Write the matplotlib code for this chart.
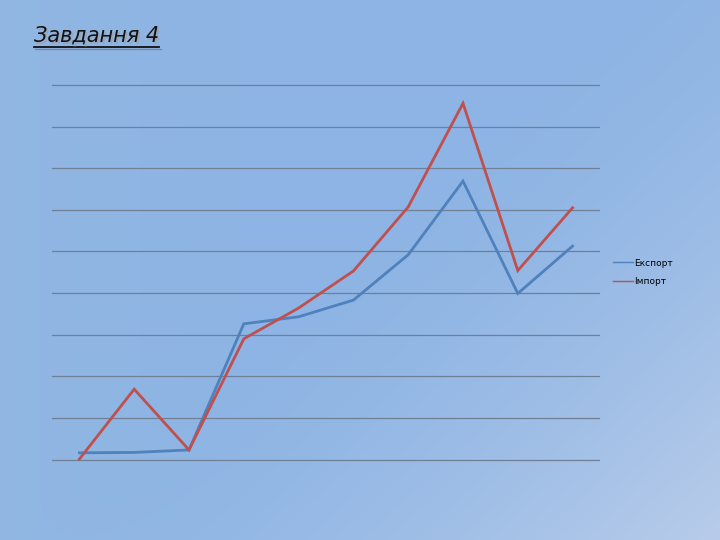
import numpy as np
import matplotlib
matplotlib.use("Agg")
import matplotlib.pyplot as plt
from matplotlib.lines import Line2D

plt.rcParams['font.family'] = ['DejaVu Sans']

categories = list(range(1, 11))
export_vals = [0.16, 0.17, 0.23, 3.26, 3.43, 3.83, 4.92, 6.69, 3.99, 5.13]
import_vals = [0.01, 1.69, 0.23, 2.90, 3.64, 4.53, 6.07, 8.56, 4.54, 6.05]
series_names = ["Експорт", "Імпорт"]
title_text = "Завдання 4"

W, H = 720, 540
fig = plt.figure(figsize=(W / 100, H / 100), dpi=100)

# background gradient
bg = fig.add_axes([0, 0, 1, 1])
yy, xx = np.mgrid[0:1:270j, 0:1:360j]
base = np.array([0x8d, 0xb4, 0xe4]) / 255.0
light = np.array([0xb8, 0xcc, 0xea]) / 255.0
left = np.array([0x94, 0xb8, 0xe2]) / 255.0
d = np.clip((xx * 0.55 + yy * 0.45 - 0.45) / 0.55, 0, 1) ** 1.6
lf = np.clip(1 - xx * 3, 0, 1) * 0.6
img = base[None, None, :] * (1 - d[..., None]) + light[None, None, :] * d[..., None]
img = img * (1 - lf[..., None]) + left[None, None, :] * lf[..., None]
bg.imshow(img, aspect='auto', extent=[0, 1, 0, 1], origin='upper')
bg.axis('off')

unit = (459.5 - 85) / 9.0
m = 0.1
y_bot = 459.5 + m * unit
y_top = 85 - m * unit
ax = fig.add_axes([52 / W, 1 - y_bot / H, 548 / W, (y_bot - y_top) / H])
ax.set_facecolor('none')
x = np.arange(len(categories))
ax.plot(x, export_vals, color='#4f81bd', lw=2.0, label=series_names[0], solid_joinstyle='miter')
ax.plot(x, import_vals, color='#c0504d', lw=2.0, label=series_names[1], solid_joinstyle='miter')
ax.set_xlim(-0.5, len(categories) - 0.5)
ax.set_ylim(-m, 9 + m)
ax.set_yticks(np.arange(0, 10))
ax.set_xticks([])
ax.tick_params(left=False, labelleft=False, bottom=False, labelbottom=False)
for s in ax.spines.values():
    s.set_visible(False)
ax.yaxis.grid(True, color='#6f7f95', lw=0.9)
ax.set_axisbelow(True)

leg = ax.legend(loc='center left', bbox_to_anchor=(613 / W, 1 - 272.5 / H),
                bbox_transform=fig.transFigure, frameon=False, fontsize=6.5,
                handlelength=2.2, handletextpad=0.1, labelspacing=1.1,
                borderpad=0, borderaxespad=0)
for t in leg.get_texts():
    t.set_color('black')
for h in leg.get_lines():
    h.set_linewidth(1.0)

# title with shadow and underline
fig.text(35.5 / W, 1 - 37.5 / H, title_text, fontsize=15, style='italic',
         color='#9aa6b8', va='center', ha='left')
tt = fig.text(34 / W, 1 - 36 / H, title_text, fontsize=15, style='italic',
              color='#111111', va='center', ha='left')
fig.canvas.draw()
bb = tt.get_window_extent()
fig.add_artist(Line2D([bb.x0 / W, bb.x1 / W], [1 - 47 / H, 1 - 47 / H],
                      transform=fig.transFigure, color='#111111', lw=1.3))
fig.add_artist(Line2D([bb.x0 / W + 0.002, bb.x1 / W + 0.002], [1 - 48.5 / H, 1 - 48.5 / H],
                      transform=fig.transFigure, color='#7c8aa0', lw=1.0))

fig.savefig('out.png', dpi=100)
